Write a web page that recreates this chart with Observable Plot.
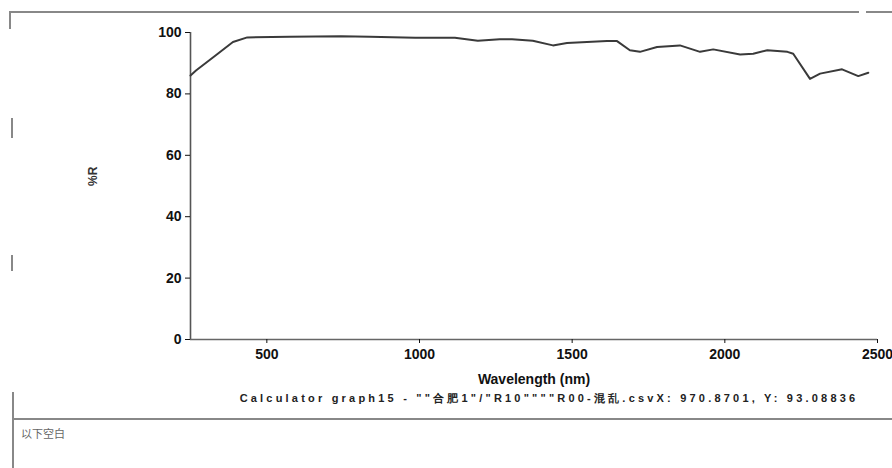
<!DOCTYPE html>
<html>
<head>
<meta charset="utf-8">
<script src="https://cdn.jsdelivr.net/npm/d3@7"></script>
<script src="https://cdn.jsdelivr.net/npm/@observablehq/plot@0.6"></script>
<style>
  body { margin: 0; background: #fff; }
  #wrap { position: relative; width: 892px; height: 468px; overflow: hidden; background: #fff; font-family: "Liberation Sans", Arial, sans-serif; }
  #chart { position: absolute; left: 0; top: 0; }
  .caption { position: absolute; top: 391px; left: 218px; width: 662px; text-align: center; font-size: 11px; font-weight: bold; color: #222; white-space: nowrap; letter-spacing: 3.2px; }
  .note { position: absolute; top: 425px; left: 21px; font-size: 11px; color: #666; font-family: "Noto Sans CJK SC", sans-serif; }
  .hline { position: absolute; height: 2px; background: #888; }
  .vline { position: absolute; width: 2px; background: #888; }
</style>
</head>
<body>
<div id="wrap">
  <div id="chart"></div>
  <div class="hline" style="left:9px; top:11px; width:850px;"></div>
  <div class="hline" style="left:866px; top:11px; width:26px;"></div>
  <div class="vline" style="left:9px; top:11px; height:18px;"></div>
  <div class="vline" style="left:11px; top:118px; height:20px;"></div>
  <div class="vline" style="left:11px; top:255px; height:16px;"></div>
  <div class="vline" style="left:12px; top:392px; height:76px;"></div>
  <div class="hline" style="left:12px; top:418px; width:880px;"></div>
  <div class="caption" id="cap"></div>
  <div class="note" id="note"></div>
</div>
<script>
const wavelength = [250, 268, 333, 389, 436, 575, 743, 837, 986, 1116, 1191, 1263, 1303, 1371, 1437, 1483, 1614, 1647, 1689, 1722, 1778, 1853, 1919, 1962, 2050, 2093, 2139, 2205, 2224, 2279, 2312, 2384, 2437, 2470];
const reflectance = [86.0, 87.6, 92.6, 96.9, 98.4, 98.6, 98.8, 98.6, 98.3, 98.3, 97.3, 97.8, 97.8, 97.3, 95.8, 96.6, 97.2, 97.2, 94.2, 93.7, 95.3, 95.8, 93.7, 94.5, 92.8, 93.1, 94.2, 93.7, 93.1, 84.9, 86.6, 88.0, 85.8, 86.9];
const xTicks = [500, 1000, 1500, 2000, 2500];
const yTicks = [0, 20, 40, 60, 80, 100];
const xLabel = "Wavelength (nm)";
const yLabel = "%R";
const captionText = "Calculator graph15 - \"\"合肥1\"/\"R10\"\"\"\"R00-混乱.csvX: 970.8701, Y: 93.08836";
const noteText = "以下空白";

const data = wavelength.map((w, i) => ({w, r: reflectance[i]}));
const fmt = d3.format("d");

const chart = Plot.plot({
  width: 892,
  height: 392,
  marginLeft: 190,
  marginRight: 15,
  marginTop: 32,
  marginBottom: 53,
  style: {fontFamily: "Liberation Sans, Arial, sans-serif", fontSize: "14px", fontWeight: "bold", color: "#111", background: "#fff"},
  x: {domain: [250, 2500], label: null},
  y: {domain: [0, 100], label: null},
  marks: [
    Plot.ruleX([250], {y1: 0, y2: 100, stroke: "#555", strokeWidth: 1.6}),
    Plot.ruleY([0], {x1: 250, x2: 2500, stroke: "#666", strokeWidth: 1.6}),
    Plot.axisX({ticks: xTicks, tickFormat: fmt, tickSize: 4, tickPadding: 6, label: xLabel, labelAnchor: "center", labelOffset: 44, labelArrow: "none", fontSize: 14, fontWeight: "bold"}),
    Plot.axisY({ticks: yTicks, tickFormat: fmt, tickSize: 5, tickPadding: 4, label: null, fontSize: 14, fontWeight: "bold"}),
    Plot.text([yLabel], {frameAnchor: "left", dx: -97, dy: 0, rotate: -90, fontSize: 12, fontWeight: "bold", fill: "#333"}),
    Plot.line(data, {x: "w", y: "r", stroke: "#3a3a3a", strokeWidth: 2, curve: "linear"})
  ]
});
document.getElementById("chart").appendChild(chart);
document.getElementById("cap").textContent = captionText;
document.getElementById("note").textContent = noteText;
</script>
</body>
</html>
